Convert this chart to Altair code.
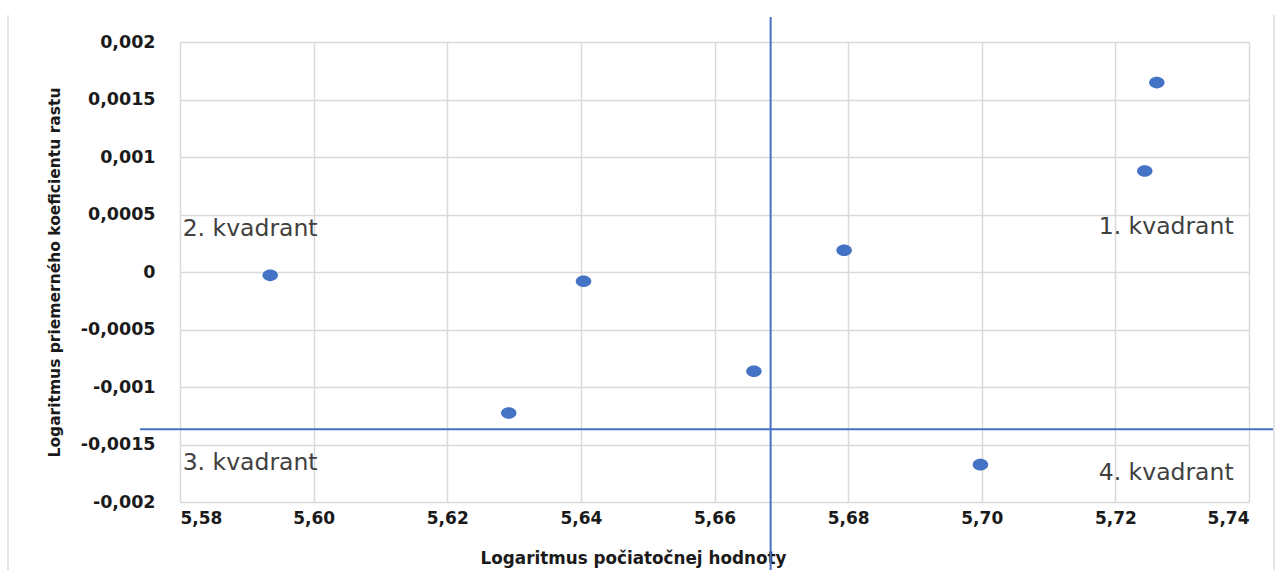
import altair as alt
import pandas as pd

# Logarithm of initial value (x) and of average growth coefficient (y)
log_initial = [5.5935, 5.6292, 5.6404, 5.6659, 5.6794, 5.6998, 5.7244, 5.7262]
log_growth = [-0.000029, -0.001226, -0.000081, -0.000863, 0.000189, -0.001675, 0.000878, 0.001647]

# Quadrant dividers
split_x = 5.6684
split_y = -0.001368

# Quadrant captions
quad_text = ["2. kvadrant", "1. kvadrant", "3. kvadrant", "4. kvadrant"]
quad_x = [5.5804, 5.7377, 5.5804, 5.7377]
quad_y = [0.00031, 0.000334, -0.001724, -0.001811]
quad_align = ["left", "right", "left", "right"]

x_ticks = [5.58, 5.60, 5.62, 5.64, 5.66, 5.68, 5.70, 5.72, 5.74]
y_ticks = [0.002, 0.0015, 0.001, 0.0005, 0, -0.0005, -0.001, -0.0015, -0.002]

BLUE = "#4472C4"
GRID = "#d9d9d9"
FONT = "DejaVu Sans"

pts = pd.DataFrame({"x": log_initial, "y": log_growth})
quads = pd.DataFrame({"t": quad_text, "x": quad_x, "y": quad_y, "a": quad_align})

xs = alt.Scale(domain=[5.58, 5.74], nice=False, zero=False)
ys = alt.Scale(domain=[-0.002, 0.002], nice=False, zero=False)

x_axis = alt.Axis(
    values=x_ticks,
    labelExpr="replace(format(datum.value, '.2f'), '.', ',')",
    title="Logaritmus počiatočnej hodnoty",
    grid=True, gridColor=GRID, gridWidth=1.5,
    domain=False, ticks=False,
    labelFont=FONT, labelFontSize=17, labelFontWeight="bold", labelColor="#1a1a1a",
    labelPadding=8,
    titleFont=FONT, titleFontSize=16.8, titleFontWeight="bold", titleColor="#1a1a1a",
    titleX=453, titleY=56, titleAlign="center", titleBaseline="middle",
)
y_axis = alt.Axis(
    values=y_ticks,
    labelExpr="replace(toString(datum.value), '.', ',')",
    title="Logaritmus priemerného koeficientu rastu",
    grid=True, gridColor=GRID, gridWidth=1.5,
    domain=False, ticks=False,
    labelFont=FONT, labelFontSize=17.5, labelFontWeight="bold", labelColor="#1a1a1a",
    labelPadding=25,
    titleFont=FONT, titleFontSize=15.5, titleFontWeight="bold", titleColor="#1a1a1a",
    titleX=-126, titleY=230, titleAngle=270, titleAlign="center", titleBaseline="middle",
)

ellipse = "M-1,0A1,0.75,0,1,0,1,0A1,0.75,0,1,0,-1,0Z"

points = alt.Chart(pts).mark_point(
    shape=ellipse, filled=True, color=BLUE, opacity=1, size=240, strokeWidth=0
).encode(
    x=alt.X("x:Q", scale=xs, axis=x_axis),
    y=alt.Y("y:Q", scale=ys, axis=y_axis),
)

vline = alt.Chart(pd.DataFrame({"x": [split_x]})).mark_rule(
    color=BLUE, strokeWidth=2, clip=False
).encode(x=alt.X("x:Q", scale=xs), y=alt.value(-25), y2=alt.value(538))

hline = alt.Chart(pd.DataFrame({"y": [split_y]})).mark_rule(
    color=BLUE, strokeWidth=2, clip=False
).encode(y=alt.Y("y:Q", scale=ys), x=alt.value(-40), x2=alt.value(1093))

# light frame at the chart's left and right sides
frame = alt.Chart(pd.DataFrame({"px": [-172, 1094]})).mark_rule(
    color="#dcdcdc", strokeWidth=1.5, clip=False
).encode(x=alt.X("px:Q", scale=None), y=alt.value(-27), y2=alt.value(530))

labels = []
for align in ["left", "right"]:
    labels.append(
        alt.Chart(quads[quads["a"] == align]).mark_text(
            align=align, baseline="alphabetic", font=FONT, fontSize=23.5, color="#404040"
        ).encode(x=alt.X("x:Q", scale=xs), y=alt.Y("y:Q", scale=ys), text="t:N")
    )

chart = alt.layer(frame, *labels, vline, hline, points).properties(
    width=1069, height=460,
    autosize=alt.AutoSizeParams(type="none"),
    padding={"left": 180, "top": 42, "right": 31, "bottom": 68},
    background="white",
).configure_view(stroke=None)

chart.save("out.html", embed_options={"renderer": "svg", "actions": False})
